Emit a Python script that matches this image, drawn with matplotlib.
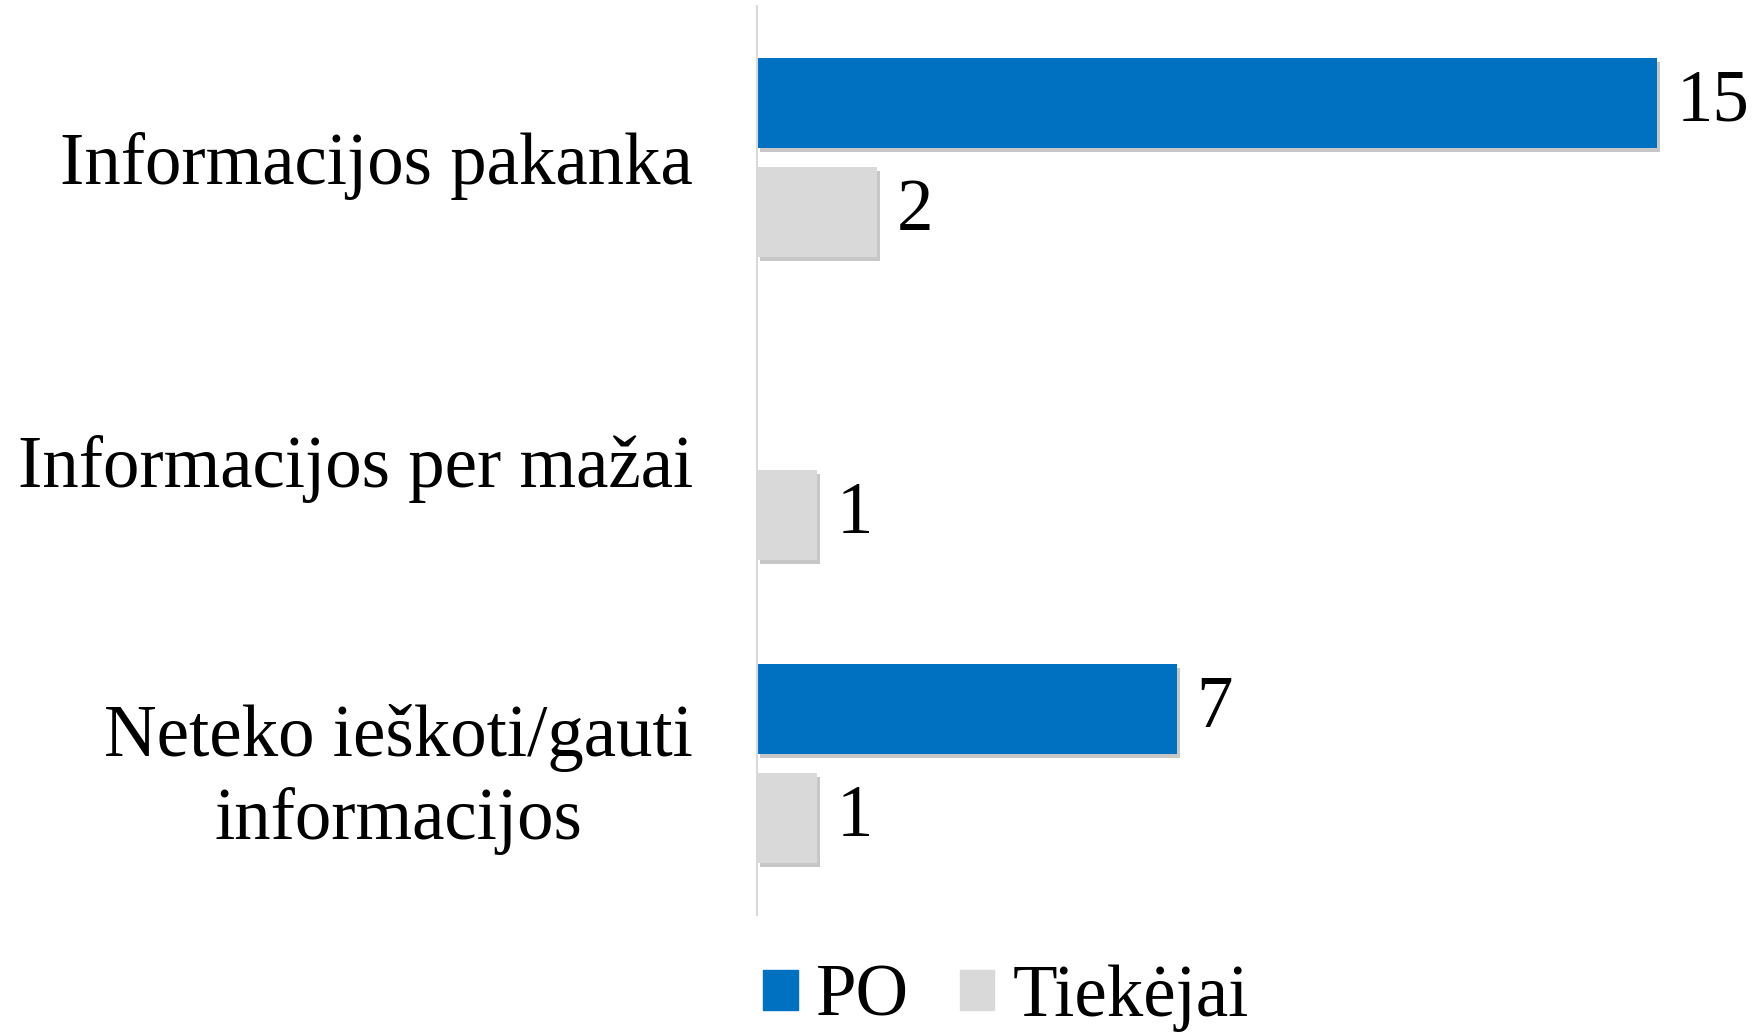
import matplotlib.pyplot as plt
import matplotlib.patheffects as pe
import matplotlib.patches as mpatches
import numpy as np

# data
categories = ["Informacijos pakanka", "Informacijos per mažai",
              "Neteko ieškoti/gauti\ninformacijos"]
po_values = [15, 0, 7]
tiekejai_values = [2, 1, 1]
series_names = ["PO", "Tiekėjai"]
colors = ["#0070C0", "#D9D9D9"]

plt.rcParams['font.family'] = ['Liberation Serif', 'DejaVu Serif']
fs = 52.5

fig = plt.figure(figsize=(17.63, 10.34), dpi=100)
ax = fig.add_axes([757 / 1763, 1 - 915 / 1034, 960 / 1763, 909 / 1034])

y = np.arange(len(categories))
h = 0.297
off = 0.18
shadow = [pe.SimplePatchShadow(offset=(2, -3), shadow_rgbFace='black', alpha=0.22),
          pe.Normal()]

bars_po = ax.barh(y - off, po_values, h, color=colors[0], path_effects=shadow)
bars_t = ax.barh(y + off, tiekejai_values, h, color=colors[1], path_effects=shadow)

for bars, vals in [(bars_po, po_values), (bars_t, tiekejai_values)]:
    labels = [str(v) if v else "" for v in vals]
    ax.bar_label(bars, labels=labels, padding=14, fontsize=fs)

ax.set_xlim(0, 16)
ax.set_ylim(2.5, -0.5)
ax.set_yticks(y)
ax.set_yticklabels(categories, fontsize=fs, multialignment='center', linespacing=1.3)
ax.tick_params(axis='y', length=0, pad=46)
ax.set_xticks([])

for s in ['top', 'right', 'bottom']:
    ax.spines[s].set_visible(False)
ax.spines['left'].set_color('#D9D9D9')
ax.spines['left'].set_linewidth(1.5)

handles = [mpatches.Patch(color=c, label=n) for c, n in zip(colors, series_names)]
fig.legend(handles=handles, loc='center',
           bbox_to_anchor=(1006 / 1763, 1 - 998 / 1034),
           ncol=2, frameon=False, fontsize=fs,
           handlelength=0.47, handleheight=0.47, handletextpad=0.25,
           columnspacing=0.7, borderpad=0)

plt.savefig("out.png", dpi=100, facecolor='white')
